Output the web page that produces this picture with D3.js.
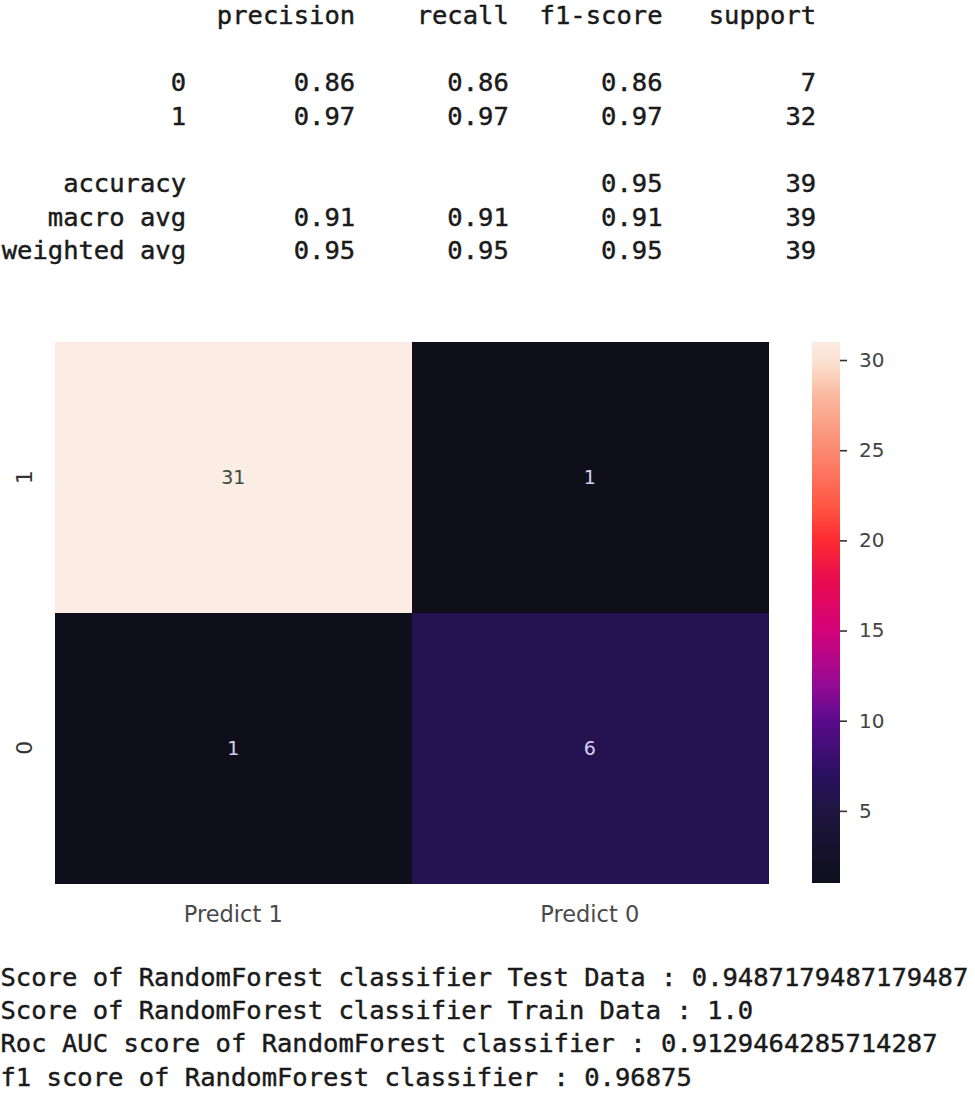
<!DOCTYPE html>
<html>
<head>
<meta charset="utf-8">
<script src="https://cdn.jsdelivr.net/npm/d3@7"></script>
<style>
  html, body { margin: 0; padding: 0; background: #ffffff; }
  svg { display: block; }
</style>
</head>
<body>
<div id="chart"></div>
<script>
// ---------------- DATA ----------------
const reportHeaders = ["precision", "recall", "f1-score", "support"];
const classLabels = ["0", "1"];
const classPrecision = [0.86, 0.97];
const classRecall = [0.86, 0.97];
const classF1 = [0.86, 0.97];
const classSupport = [7, 32];

const avgLabels = ["accuracy", "macro avg", "weighted avg"];
const avgPrecision = [null, 0.91, 0.95];
const avgRecall = [null, 0.91, 0.95];
const avgF1 = [0.95, 0.91, 0.95];
const avgSupport = [39, 39, 39];

const rowLabels = ["1", "0"];
const colLabels = ["Predict 1", "Predict 0"];
const confusion = [[31, 1], [1, 6]];
const colorbarTicks = [5, 10, 15, 20, 25, 30];

const scoreNames = [
  "Score of RandomForest classifier Test Data",
  "Score of RandomForest classifier Train Data",
  "Roc AUC score of RandomForest classifier",
  "f1 score of RandomForest classifier"
];
const scoreValues = ["0.9487179487179487", "1.0", "0.9129464285714287", "0.96875"];

// ---------------- STYLE / LAYOUT ----------------
const W = 975, H = 1093;
const mono = "'DejaVu Sans Mono', 'Liberation Mono', monospace";
const sans = "'DejaVu Sans', 'Noto Sans', sans-serif";
const charW = 15.37, monoSize = 25.53, textX0 = 1.6;
const lineH = 33.6, reportTop = 24;
const colEnds = [12, 23, 33, 43, 53];

// colormap (rocket-like, as seen in picture)
const cmapVals = [1, 5, 7, 10, 12, 15, 18, 20, 22, 25, 28, 30, 31];
const cmapCols = ["#0f0f1c", "#1e1540", "#2a1060", "#5a0b8c", "#960a95", "#d4037a",
                  "#ea0d4c", "#fd2b31", "#ff5845", "#fb8a70", "#f9b89e", "#fce3d4", "#fbede3"];

const svg = d3.select("#chart").append("svg")
  .attr("width", W).attr("height", H)
  .attr("viewBox", `0 0 ${W} ${H}`);

svg.append("rect").attr("width", W).attr("height", H).attr("fill", "#fff");

// ---------------- CLASSIFICATION REPORT ----------------
const colX = c => textX0 + c * charW;
const fmt2 = d3.format(".2f");
const rep = svg.append("g")
  .attr("font-family", mono).attr("font-size", monoSize)
  .attr("fill", "#1a1a1a").attr("stroke", "#1a1a1a").attr("stroke-width", 0.45)
  .attr("text-anchor", "end");

reportHeaders.forEach((h, i) => {
  rep.append("text").attr("x", colX(colEnds[i + 1])).attr("y", reportTop).text(h);
});

const reportRows = [];
classLabels.forEach((l, i) => reportRows.push({
  line: 2 + i, label: l,
  vals: [classPrecision[i], classRecall[i], classF1[i]], sup: classSupport[i]
}));
avgLabels.forEach((l, i) => reportRows.push({
  line: 5 + i, label: l,
  vals: [avgPrecision[i], avgRecall[i], avgF1[i]], sup: avgSupport[i]
}));

reportRows.forEach(r => {
  const y = reportTop + r.line * lineH;
  rep.append("text").attr("x", colX(colEnds[0])).attr("y", y).text(r.label);
  r.vals.forEach((v, j) => {
    if (v !== null) rep.append("text").attr("x", colX(colEnds[j + 1])).attr("y", y).text(fmt2(v));
  });
  rep.append("text").attr("x", colX(colEnds[4])).attr("y", y).text(r.sup);
});

// ---------------- HEATMAP ----------------
const hm = { left: 55, right: 768, top: 342, bottom: 883 };
const x = d3.scaleBand().domain(colLabels).range([hm.left, hm.right]);
const y = d3.scaleBand().domain(rowLabels).range([hm.top, hm.bottom]);
const color = d3.scaleLinear().domain(cmapVals).range(cmapCols).interpolate(d3.interpolateRgb).clamp(true);
const vmin = d3.min(confusion.flat()), vmax = d3.max(confusion.flat());

const cells = [];
rowLabels.forEach((r, i) => colLabels.forEach((c, j) => cells.push({ r, c, v: confusion[i][j] })));

const g = svg.append("g");
g.selectAll("rect.cell").data(cells).join("rect")
  .attr("class", "cell")
  .attr("x", d => x(d.c)).attr("y", d => y(d.r))
  .attr("width", x.bandwidth() + 0.5).attr("height", y.bandwidth() + 0.5)
  .attr("shape-rendering", "crispEdges")
  .attr("fill", d => color(d.v));

g.selectAll("text.annot").data(cells).join("text")
  .attr("class", "annot")
  .attr("x", d => x(d.c) + x.bandwidth() / 2)
  .attr("y", d => y(d.r) + y.bandwidth() / 2)
  .attr("dy", "0.36em")
  .attr("text-anchor", "middle")
  .attr("font-family", sans).attr("font-size", 19)
  .attr("fill", d => (d.v - vmin) / (vmax - vmin) > 0.6 ? "#3e4a42" : "#d6d0ee")
  .text(d => d.v);

// x tick labels
g.selectAll("text.xl").data(colLabels).join("text")
  .attr("class", "xl")
  .attr("x", d => x(d) + x.bandwidth() / 2)
  .attr("y", 922)
  .attr("text-anchor", "middle")
  .attr("font-family", sans).attr("font-size", 22.5)
  .attr("fill", "#4a4a4a")
  .text(d => d);

// y tick labels (rotated)
g.selectAll("text.yl").data(rowLabels).join("text")
  .attr("class", "yl")
  .attr("transform", d => `translate(24,${y(d) + y.bandwidth() / 2}) rotate(-90)`)
  .attr("text-anchor", "middle")
  .attr("dy", "0.36em")
  .attr("font-family", sans).attr("font-size", 22)
  .attr("fill", "#333")
  .text(d => d);

// ---------------- COLORBAR ----------------
const cb = { left: 812, width: 28 };
const cy = d3.scaleLinear().domain([vmin, vmax]).range([hm.bottom, hm.top]);
const defs = svg.append("defs");
const grad = defs.append("linearGradient").attr("id", "cbgrad")
  .attr("x1", 0).attr("y1", 1).attr("x2", 0).attr("y2", 0);
d3.range(0, 1.0001, 0.02).forEach(t => {
  grad.append("stop").attr("offset", t).attr("stop-color", color(vmin + t * (vmax - vmin)));
});
svg.append("rect")
  .attr("x", cb.left).attr("y", cy(vmax))
  .attr("width", cb.width).attr("height", cy(vmin) - cy(vmax))
  .attr("fill", "url(#cbgrad)");

const axis = d3.axisRight(cy).tickValues(colorbarTicks).tickSize(7).tickPadding(12);
const ax = svg.append("g").attr("transform", `translate(${cb.left + cb.width},0)`).call(axis);
ax.select(".domain").remove();
ax.selectAll(".tick line").attr("stroke", "#333").attr("stroke-width", 1.6);
ax.selectAll(".tick text").attr("font-family", sans).attr("font-size", 20).attr("fill", "#444");

// ---------------- SCORE LINES ----------------
const sc = svg.append("g").attr("font-family", mono).attr("font-size", monoSize)
  .attr("fill", "#1a1a1a").attr("stroke", "#1a1a1a").attr("stroke-width", 0.45);
scoreNames.forEach((n, i) => {
  sc.append("text").attr("x", 0.5).attr("y", 986 + i * 33.2)
    .attr("xml:space", "preserve").style("white-space", "pre")
    .text(`${n} : ${scoreValues[i]}`);
});
</script>
</body>
</html>
